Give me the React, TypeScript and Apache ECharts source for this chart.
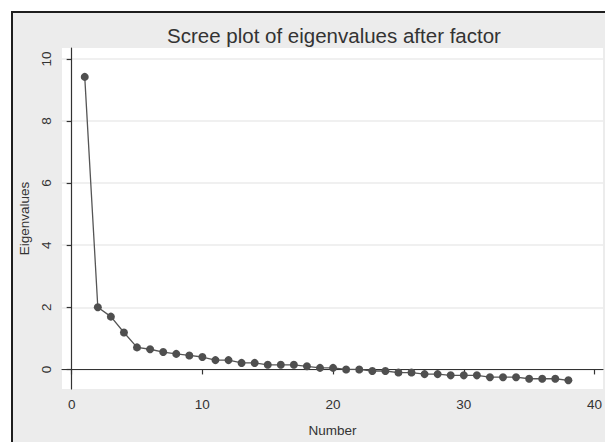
import React, { useEffect, useRef } from "react";
import * as echarts from "echarts";

const numbers = [
  1, 2, 3, 4, 5, 6, 7, 8, 9, 10, 11, 12, 13, 14, 15, 16, 17, 18, 19, 20, 21,
  22, 23, 24, 25, 26, 27, 28, 29, 30, 31, 32, 33, 34, 35, 36, 37, 38,
];
const eigenvalues = [
  9.42, 2.0, 1.7, 1.19, 0.71, 0.65, 0.56, 0.5, 0.45, 0.4, 0.3, 0.3, 0.21, 0.21,
  0.15, 0.15, 0.15, 0.1, 0.05, 0.05, 0.0, 0.0, -0.05, -0.05, -0.1, -0.1, -0.15,
  -0.15, -0.19, -0.19, -0.19, -0.25, -0.25, -0.25, -0.3, -0.3, -0.3, -0.35,
];
const xTicks = [0, 10, 20, 30, 40];
const yTicks = [0, 2, 4, 6, 8, 10];

const FONT = "'Liberation Sans', Arial, Helvetica, sans-serif";

export default function App() {
  const ref = useRef<HTMLDivElement>(null);
  useEffect(() => {
    if (!ref.current) return;
    const chart = echarts.init(ref.current, undefined, { renderer: "svg" });
    chart.setOption({
      animation: false,
      backgroundColor: "#ffffff",
      textStyle: { fontFamily: FONT },
      title: {
        text: "Scree plot of eigenvalues after factor",
        left: 334,
        top: 25,
        padding: 0,
        textAlign: "center",
        textStyle: {
          fontFamily: FONT,
          fontSize: 20.5,
          fontWeight: "normal",
          color: "#333333",
        },
      },
      graphic: [
        {
          type: "rect",
          z: -100,
          silent: true,
          shape: { x: 12, y: 12, width: 700, height: 500 },
          style: { fill: "#ececec", stroke: "#1e1e1e", lineWidth: 2 },
        },
      ],
      grid: {
        left: 62,
        top: 48,
        right: 0,
        bottom: 46,
        show: true,
        backgroundColor: "#ffffff",
        borderWidth: 0,
      },
      xAxis: {
        type: "value",
        min: -0.74,
        max: 40.65,
        name: "Number",
        nameLocation: "middle",
        nameGap: 34,
        nameTextStyle: { fontFamily: FONT, fontSize: 13.5, color: "#333333" },
        axisLine: { show: true, lineStyle: { color: "#333333", width: 1.2 } },
        axisTick: {
          show: true,
          length: 5,
          customValues: xTicks,
          lineStyle: { color: "#333333", width: 1.2 },
        },
        axisLabel: {
          customValues: xTicks,
          fontFamily: FONT,
          fontSize: 13.5,
          color: "#333333",
          margin: 8,
        },
        splitLine: { show: false },
      },
      yAxis: {
        type: "value",
        min: -0.63,
        max: 10.35,
        name: "Eigenvalues",
        nameLocation: "middle",
        nameGap: 28,
        nameTextStyle: { fontFamily: FONT, fontSize: 13.5, color: "#333333" },
        axisLine: { show: true, lineStyle: { color: "#333333", width: 1.2 } },
        axisTick: {
          show: true,
          length: 5,
          customValues: yTicks,
          lineStyle: { color: "#333333", width: 1.2 },
        },
        axisLabel: {
          customValues: yTicks,
          rotate: 90,
          fontFamily: FONT,
          fontSize: 13.5,
          color: "#333333",
          margin: 9,
        },
        splitLine: {
          show: true,
          lineStyle: { color: "#ebebeb", width: 1.5 },
        },
      },
      series: [
        {
          type: "line",
          data: numbers.map((n, i) => [n, eigenvalues[i]]),
          symbol: "circle",
          symbolSize: 8,
          showSymbol: true,
          lineStyle: { color: "#555555", width: 1.3 },
          itemStyle: { color: "#4f4f4f" },
          z: 5,
        },
      ],
    });
    return () => chart.dispose();
  }, []);
  return (
    <div
      ref={ref}
      style={{ position: "fixed", left: 0, top: 0, width: 605, height: 442 }}
    />
  );
}
